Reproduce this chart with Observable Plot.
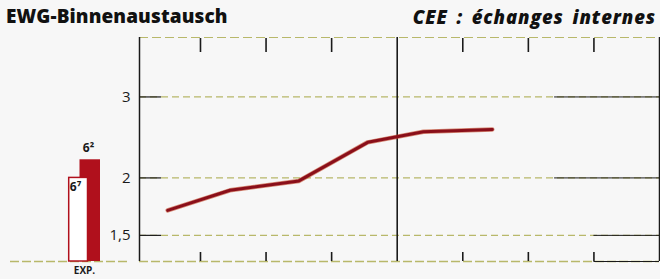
<!DOCTYPE html>
<html>
<head>
<meta charset="utf-8">
<script src="https://cdn.jsdelivr.net/npm/d3@7"></script>
<script src="https://cdn.jsdelivr.net/npm/@observablehq/plot@0.6"></script>
<style>
  html, body { margin: 0; padding: 0; background: #f7f7f7; }
  #wrap { position: relative; width: 660px; height: 279px; overflow: hidden; font-family: "Open Sans", sans-serif; }
  #titleL { position: absolute; left: 6px; top: 7px; font-size: 19px; font-weight: 800; line-height: 19px; color: #111; letter-spacing: 0.1px; }
  #titleR { position: absolute; right: 4px; top: 7px; font-size: 18.5px; font-weight: 800; font-style: italic; line-height: 19px; color: #111; letter-spacing: 0.9px; word-spacing: 3px; }
  #main { position: absolute; left: 0; top: 30px; }
  #inset { position: absolute; left: 0; top: 30px; }
</style>
</head>
<body>
<div id="wrap">
  <div id="titleL">EWG-Binnenaustausch</div>
  <div id="titleR">CEE : échanges internes</div>
  <div id="main"></div>
  <div id="inset"></div>
</div>
<script>
// ---- data ----
const years  = [1958.5, 1959.45, 1960.5, 1961.55, 1962.4, 1963.45];
const values = [1.70, 1.88, 1.97, 2.39, 2.52, 2.55];
const yTicks = [1.5, 2, 3];
const yearTicks = [1959, 1960, 1961, 1963, 1964, 1965];
const dividerYear = [1962];
const xDomain = [1958.07, 1966];
const yDomain = [1.316, 4.04];
const insetLabels = ["6\u2077", "6\u00b2"];
const insetValues = [2.0, 2.19];
const insetCaption = "EXP.";

const data = years.map((y, i) => ({year: y, value: values[i]}));
const insetData = insetLabels.map((l, i) => ({label: l, value: insetValues[i]}));

const H = 249;
const gridColor = "#b8b86a";
const dark = "#1a1a1a";

const main = Plot.plot({
  width: 660, height: H,
  marginTop: 7, marginBottom: 18, marginLeft: 139, marginRight: 1,
  style: {background: "transparent", fontFamily: "Open Sans, sans-serif", fontSize: "13px", color: dark},
  x: {domain: xDomain, label: null},
  y: {type: "log", domain: yDomain, label: null},
  marks: [
    Plot.ruleY(yTicks, {stroke: gridColor, strokeWidth: 1.2, strokeDasharray: "7,4"}),
    Plot.ruleY([yDomain[1]], {stroke: gridColor, strokeWidth: 1.2, strokeDasharray: "9,4"}),
    Plot.ruleY([yDomain[0]], {stroke: gridColor, strokeWidth: 1.3, strokeDasharray: "9,3"}),
    Plot.ruleY([yDomain[0]], {x1: 1965, x2: xDomain[1], stroke: dark, strokeWidth: 1.2}),
    Plot.ruleY([3, 2], {x1: 1964.4, x2: xDomain[1], stroke: dark, strokeWidth: 1}),
    Plot.ruleY([1.5], {x1: 1965, x2: xDomain[1], stroke: dark, strokeWidth: 1}),
    Plot.ruleX([xDomain[0]], {stroke: dark, strokeWidth: 1.5}),
    Plot.ruleX([xDomain[1]], {stroke: dark, strokeWidth: 1.5}),
    Plot.ruleX(dividerYear, {stroke: dark, strokeWidth: 1.6}),
    Plot.axisY({ticks: yTicks, tickSize: -22, tickFormat: () => "", label: null, stroke: dark, strokeWidth: 1.2}),
    Plot.axisY({ticks: yTicks, tickSize: 0, tickPadding: 9, label: null, tickFormat: d => String(d).replace(".", ","), fontSize: 15, fill: dark}),
    Plot.axisX({anchor: "top", ticks: yearTicks, tickSize: -14, tickFormat: () => "", label: null, stroke: dark, strokeWidth: 1.6}),
    Plot.axisX({anchor: "bottom", ticks: yearTicks, tickSize: -9, tickFormat: () => "", label: null, stroke: dark, strokeWidth: 1.6}),
    Plot.line(data, {x: "year", y: "value", stroke: "#c0401e", strokeWidth: 4.5, strokeLinejoin: "round", strokeLinecap: "round", strokeOpacity: 0.6}),
    Plot.line(data, {x: "year", y: "value", stroke: "#8a0f1a", strokeWidth: 3, strokeLinejoin: "round", strokeLinecap: "round"})
  ]
});
document.getElementById("main").appendChild(main);

const inset = Plot.plot({
  width: 139, height: H,
  marginTop: 7, marginBottom: 18, marginLeft: 10, marginRight: 12,
  style: {background: "transparent", fontFamily: "Open Sans, sans-serif", color: dark},
  x: {type: "band", domain: insetLabels, range: [67, 100], padding: 0, axis: null},
  y: {type: "log", domain: yDomain, axis: null},
  marks: [
    Plot.ruleY([yDomain[0]], {stroke: gridColor, strokeWidth: 1.3, strokeDasharray: "9,3"}),
    Plot.barY([insetData[1]], {x: "label", y1: yDomain[0], y2: "value", fill: "#b0101c", insetLeft: -4.5, insetRight: 0}),
    Plot.barY([insetData[0]], {x: "label", y1: yDomain[0], y2: "value", fill: "#ffffff", stroke: "#b0101c", strokeWidth: 1.5, insetLeft: 0.7, insetRight: -3.5}),
    Plot.ruleY([yDomain[0]], {x1: insetLabels[0], x2: insetLabels[1], stroke: dark, strokeWidth: 1.2}),
    Plot.text([insetData[0]], {x: "label", y: "value", text: "label", dy: 9, dx: -1, fontSize: 12, fontWeight: 700, fill: dark}),
    Plot.text([insetData[1]], {x: "label", y: "value", text: "label", dy: -12, dx: -4, fontSize: 12, fontWeight: 700, fill: dark}),
    Plot.text([insetCaption], {x: () => insetLabels[1], y: () => yDomain[0], text: d => d, frameAnchor: "middle", dy: 9, dx: -8, fontSize: 10, fontWeight: 700, fill: dark})
  ]
});
document.getElementById("inset").appendChild(inset);
</script>
</body>
</html>
